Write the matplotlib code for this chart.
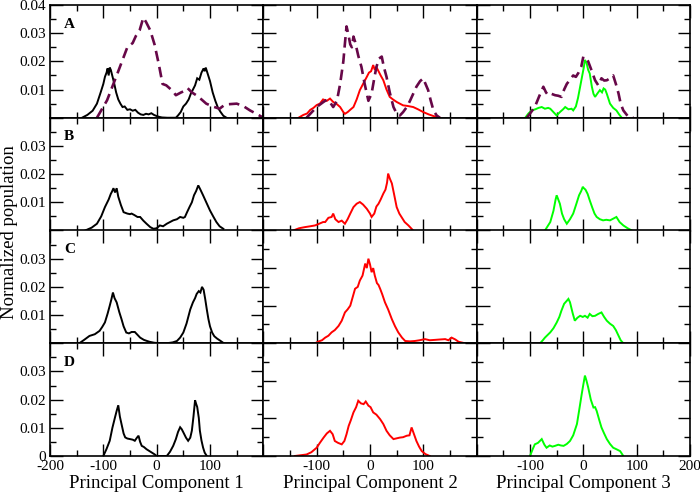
#Principal component population histograms
#4 rows (A-D) x 3 principal components, Grace style panels
#--------------------------------------------------------

import matplotlib
matplotlib.use('Agg')
import matplotlib.pyplot as plt
from matplotlib.ticker import MultipleLocator

plt.rcParams['font.family'] = ['Liberation Serif', 'DejaVu Serif']

#Data
#--------------------------------------------------------
rowLabels = ['A', 'B', 'C', 'D']
xLabels = ['Principal Component 1', 'Principal Component 2', 'Principal Component 3']
yLabel = 'Normalized population'
colColors = ['black', '#ff0000', '#00ff00']
dashColor = '#670748'

# row A
a1_x = [-140,-130,-120,-112,-105,-100,-97,-94,-92,-90,-88,-86,-84,-80,-76,-72,-68,-64,-60,-55,-50,-45,-40,-35,-30,-25,-20,-15,-10,-5,0,5,10,20,30,36,40,45,50,55,60,64,68,72,76,80,84,88,90,92,95,100,105,110,115,120,125,131]
a1_y = [0,0.001,0.0025,0.005,0.009,0.012,0.0145,0.016,0.0175,0.015,0.0178,0.017,0.0155,0.0125,0.009,0.0065,0.005,0.0038,0.004,0.0028,0.003,0.0025,0.0028,0.0018,0.0012,0.001,0.0014,0.0012,0.0016,0.001,0.0006,0.0003,0.0001,0,0,0,0.0008,0.002,0.004,0.005,0.0065,0.0085,0.01,0.0115,0.014,0.0135,0.016,0.0175,0.0165,0.0178,0.016,0.013,0.009,0.006,0.0035,0.002,0.0007,0]
a1d_x = [-112,-93,-75,-55,-45,-39,-32,-25,-20,-12,-4,4,11,18,24,30,36,41,46,52,58,66,74,84,93,105,118,122,127,135,150,162,175,188,200]
a1d_y = [0,0.0062,0.015,0.025,0.0265,0.029,0.031,0.0355,0.034,0.031,0.026,0.019,0.012,0.0115,0.0105,0.0095,0.008,0.0085,0.009,0.0095,0.0105,0.009,0.008,0.0065,0.005,0.004,0.0032,0.0038,0.0045,0.0048,0.005,0.0042,0.0026,0.0013,0]

a2_x = [-134,-125,-118,-112,-106,-100,-94,-88,-81,-75,-69,-62,-56,-50,-47,-42,-36,-31,-25,-19,-13,-6,-2,2,6,9,12,16,20,25,31,37,43,50,56,62,70,81,90,100,110,119,131]
a2_y = [0,0.001,0.0015,0.0028,0.0035,0.0045,0.005,0.0065,0.006,0.0068,0.0056,0.0048,0.0038,0.002,0.0014,0.002,0.003,0.0038,0.0065,0.0098,0.012,0.0145,0.016,0.0165,0.0187,0.017,0.018,0.0165,0.015,0.0133,0.01,0.0074,0.0065,0.0056,0.005,0.0044,0.0042,0.0038,0.003,0.002,0.0012,0.0006,0]
a2d_x = [-119,-100,-88,-81,-75,-69,-62,-56,-50,-47,-44,-41,-37,-34,-31,-28,-22,-16,-10,-3,3,8,12,17,22,26,31,37,44,50,56,62,69,75,81,87,94,100,103,109,114,119,125,131]
a2d_y = [0,0.0038,0.0055,0.0064,0.0055,0.0038,0.006,0.012,0.02,0.0264,0.0324,0.03,0.026,0.025,0.0288,0.027,0.022,0.018,0.012,0.006,0.0086,0.014,0.018,0.021,0.0217,0.018,0.0145,0.009,0.0038,0.0015,0.0008,0.002,0.0038,0.006,0.0085,0.011,0.013,0.014,0.0125,0.0098,0.006,0.0026,0.0008,0]

a3_x = [-109,-103,-97,-90,-84,-78,-72,-66,-62,-56,-50,-44,-38,-34,-28,-22,-19,-14,-10,-6,-2,1,3,6,9,12,16,19,22,26,31,35,38,41,44,50,56,62,67,72]
a3_y = [0,0.0015,0.0026,0.003,0.0035,0.0038,0.0032,0.0035,0.0032,0.002,0.0008,0.002,0.003,0.0038,0.003,0.0032,0.0026,0.004,0.007,0.011,0.015,0.018,0.0205,0.0195,0.017,0.0157,0.011,0.0085,0.0074,0.0085,0.0098,0.009,0.0104,0.01,0.0085,0.005,0.0035,0.0026,0.0012,0]
a3d_x = [-106,-98,-91,-83,-75,-70,-66,-60,-53,-47,-41,-36,-31,-25,-19,-14,-9,-4,0,5,9,15,22,28,34,39,44,50,56,61,66,70,75,84,94]
a3d_y = [0,0.002,0.0038,0.0075,0.011,0.009,0.008,0.0085,0.008,0.0078,0.0074,0.01,0.012,0.0135,0.015,0.0145,0.016,0.018,0.0217,0.021,0.02,0.017,0.0133,0.0115,0.014,0.0132,0.0133,0.014,0.015,0.012,0.0086,0.005,0.0026,0.0004,0]

# row B
b1_x = [-134,-122,-112,-104,-97,-90,-86,-84,-81,-78,-75,-72,-67,-62,-55,-50,-47,-42,-36,-31,-25,-19,-12,-6,0,6,12,19,25,31,38,44,50,53,57,62,66,70,74,78,82,87,93,100,106,112,118,125]
b1_y = [0,0.001,0.0024,0.005,0.0083,0.011,0.013,0.0137,0.015,0.0135,0.015,0.012,0.009,0.0065,0.006,0.0058,0.006,0.0055,0.0048,0.0048,0.0035,0.0024,0.0012,0.0006,0.0008,0.0018,0.0015,0.0024,0.003,0.0036,0.004,0.0048,0.0045,0.0048,0.0065,0.0085,0.01,0.0125,0.014,0.016,0.0145,0.0125,0.01,0.0071,0.005,0.003,0.0015,0.0006]
b2_x = [-144,-133,-122,-112,-103,-94,-88,-84,-78,-72,-69,-65,-59,-53,-47,-42,-37,-31,-25,-19,-13,-6,0,3,8,12,16,20,25,29,32,34,37,41,45,50,55,59,65,72,81]
b2_y = [0,0.0008,0.0012,0.0015,0.0018,0.0025,0.003,0.003,0.0045,0.0048,0.006,0.004,0.003,0.0035,0.0024,0.004,0.006,0.0083,0.0095,0.0101,0.0092,0.0077,0.006,0.0048,0.006,0.0085,0.0095,0.011,0.0131,0.0145,0.017,0.0202,0.0185,0.0167,0.013,0.0083,0.006,0.0048,0.003,0.0018,0]
b3_x = [-72,-67,-62,-56,-52,-50,-47,-44,-40,-36,-31,-25,-19,-13,-8,-4,-1,1,4,8,12,17,21,25,31,37,43,50,56,62,68,75,83,91]
b3_y = [0,0.0015,0.003,0.007,0.011,0.0125,0.011,0.0095,0.006,0.004,0.0024,0.004,0.006,0.0095,0.0125,0.014,0.0155,0.015,0.0145,0.013,0.0107,0.008,0.006,0.0048,0.004,0.0036,0.0038,0.0036,0.0042,0.0048,0.003,0.0018,0.0008,0]

# row C
c1_x = [-145,-136,-126,-116,-107,-102,-97,-92,-88,-85,-82,-79,-75,-70,-66,-62,-57,-52,-47,-41,-36,-31,-24,-18,-13,-5,5,19,30,38,44,50,56,63,68,72,75,79,82,85,88,91,94,97,100,104,108,113,120,126]
c1_y = [0,0.0012,0.0026,0.0032,0.0044,0.0058,0.0074,0.0105,0.0133,0.0155,0.018,0.016,0.0145,0.011,0.0086,0.006,0.0038,0.0035,0.004,0.004,0.003,0.002,0.0012,0.0008,0.0005,0.0002,0,0,0.0003,0.0008,0.002,0.0038,0.007,0.012,0.0145,0.016,0.0175,0.0185,0.018,0.02,0.019,0.0157,0.012,0.0086,0.006,0.0038,0.0025,0.0017,0.0008,0]
c2_x = [-103,-96,-90,-84,-78,-72,-66,-59,-53,-47,-42,-37,-33,-28,-23,-19,-14,-9,-6,-3,0,3,6,9,13,16,19,23,28,34,41,47,53,60,66,75,84,93,103,112,122,131,141,147,153,160,166,172,178]
c2_y = [0,0.0005,0.0008,0.0015,0.002,0.0029,0.0035,0.0046,0.006,0.0082,0.009,0.01,0.012,0.0145,0.015,0.0167,0.018,0.0212,0.02,0.0225,0.021,0.0189,0.02,0.018,0.016,0.0155,0.0145,0.013,0.0109,0.009,0.0064,0.0045,0.0029,0.0015,0.0006,0.0005,0.0006,0.0008,0.0011,0.0008,0.0009,0.001,0.0011,0.0008,0.0015,0.001,0.0004,0.0002,0]
c3_x = [-81,-76,-72,-67,-62,-56,-50,-45,-41,-36,-31,-28,-25,-20,-16,-11,-6,-1,3,8,12,17,22,28,34,39,44,50,56,61,66,70,75]
c3_y = [0,0.0008,0.0015,0.0022,0.0029,0.004,0.0055,0.007,0.0087,0.0105,0.0113,0.0118,0.0109,0.008,0.006,0.0068,0.0073,0.007,0.0073,0.0068,0.0078,0.0072,0.0073,0.0078,0.0082,0.007,0.006,0.0052,0.0046,0.0035,0.002,0.0008,0]

# row D
d1_x = [-100,-94,-88,-83,-78,-75,-72,-69,-66,-62,-59,-55,-50,-45,-41,-37,-34,-31,-28,-24,-19,-14,-9,-4,0,19,25,31,36,40,44,47,50,55,59,63,66,69,72,74,76,79,81,84,87,90,94]
d1_y = [0,0.0025,0.0054,0.01,0.0138,0.016,0.018,0.014,0.0114,0.008,0.0066,0.0062,0.006,0.0058,0.0054,0.0065,0.0072,0.005,0.0036,0.0032,0.0024,0.0018,0.0012,0.0006,0,0,0.0015,0.0036,0.006,0.0085,0.0102,0.0095,0.0084,0.0065,0.0054,0.0065,0.009,0.014,0.0198,0.0185,0.0174,0.0135,0.009,0.0055,0.003,0.0012,0]
d2_x = [-141,-130,-119,-110,-100,-94,-87,-81,-75,-70,-66,-60,-53,-48,-44,-40,-36,-31,-26,-22,-17,-12,-8,-3,1,6,12,19,25,31,37,44,50,56,62,69,74,78,82,87,92,97,104,112]
d2_y = [0,0.0002,0.0004,0.001,0.0022,0.0035,0.0049,0.006,0.0067,0.0058,0.004,0.0035,0.0031,0.004,0.0058,0.008,0.0095,0.0116,0.013,0.0147,0.014,0.0138,0.0145,0.0134,0.013,0.0116,0.011,0.0098,0.0085,0.0067,0.0055,0.0045,0.0047,0.0049,0.005,0.0054,0.0055,0.0076,0.006,0.004,0.0025,0.0013,0.0005,0]
d3_x = [-100,-95,-91,-85,-78,-73,-69,-63,-58,-53,-47,-42,-37,-31,-25,-19,-12,-8,-3,0,3,6,9,14,19,22,25,30,34,39,44,50,56,62,69,75]
d3_y = [0,0.0018,0.0031,0.0035,0.0045,0.003,0.0022,0.0028,0.0025,0.0027,0.003,0.0028,0.0027,0.0032,0.004,0.0055,0.0085,0.012,0.0165,0.019,0.0214,0.02,0.0183,0.015,0.0129,0.013,0.012,0.0095,0.0076,0.006,0.0045,0.0032,0.0022,0.0018,0.0013,0]

solid = [[(a1_x, a1_y), (a2_x, a2_y), (a3_x, a3_y)],
         [(b1_x, b1_y), (b2_x, b2_y), (b3_x, b3_y)],
         [(c1_x, c1_y), (c2_x, c2_y), (c3_x, c3_y)],
         [(d1_x, d1_y), (d2_x, d2_y), (d3_x, d3_y)]]
dashed = [(a1d_x, a1d_y), (a2d_x, a2d_y), (a3d_x, a3d_y)]

# y range of each panel (cols 2,3 of rows C,D use 0-0.03)
yTop = [[0.04, 0.04, 0.04],
        [0.04, 0.04, 0.04],
        [0.04, 0.03, 0.03],
        [0.04, 0.03, 0.03]]

#Plotting
#--------------------------------------------------------
fig, axs = plt.subplots(4, 3, figsize=(7, 4.93), dpi=100)
fig.subplots_adjust(left=50/700, right=690/700, top=1-5/493, bottom=1-456/493,
                    hspace=0, wspace=0)

xTickSets = [['-200', '-100', '0', '100', ''],
             ['', '-100', '0', '100', ''],
             ['', '-100', '0', '100', '200']]

for r in range(4):
    for c in range(3):
        ax = axs[r][c]
        x, y = solid[r][c]
        ax.plot(x, y, color=colColors[c], lw=1.4, solid_joinstyle='miter')
        if r == 0:
            dx, dy = dashed[c]
            ax.plot(dx, dy, color=dashColor, lw=1.9, linestyle=(0, (4, 2.2)))

        ax.set_xlim(-200, 200)
        ax.set_ylim(0, yTop[r][c])
        ax.xaxis.set_major_locator(MultipleLocator(100))
        ax.xaxis.set_minor_locator(MultipleLocator(50))
        ax.yaxis.set_major_locator(MultipleLocator(0.01))
        ax.yaxis.set_minor_locator(MultipleLocator(0.005))
        ax.tick_params(which='both', direction='in', top=True, right=True,
                       width=1.0, labelsize=11)
        ax.tick_params(which='major', length=9)
        ax.tick_params(which='minor', length=4.5)
        ax.tick_params(axis='y', pad=3)
        ax.tick_params(axis='x', pad=3)
        for s in ax.spines.values():
            s.set_linewidth(1.2)

        # x tick labels only on bottom row
        ax.set_xticks([-200, -100, 0, 100, 200])
        if r == 3:
            ax.set_xticklabels(xTickSets[c])
            ax.set_xlabel(xLabels[c], fontsize=13.5, labelpad=1)
        else:
            ax.set_xticklabels([])

        # y tick labels only on left column
        ax.set_yticks([0, 0.01, 0.02, 0.03, 0.04][:int(round(yTop[r][c]*100)) + 1])
        if c == 0:
            labs = ['0', '0.01', '0.02', '0.03', '0.04']
            if r != 3:
                labs[0] = ''
            if r != 0:
                labs[4] = ''
            ax.set_yticklabels(labs)
            ax.text(0.066, 0.83, rowLabels[r], transform=ax.transAxes,
                    fontsize=11, fontweight='bold', va='center', ha='left')
        else:
            ax.set_yticklabels([])

fig.text(0.014, 1-232/493, yLabel, rotation=90, fontsize=13.5,
         ha='center', va='center')

fig.savefig('out.png', dpi=100)
